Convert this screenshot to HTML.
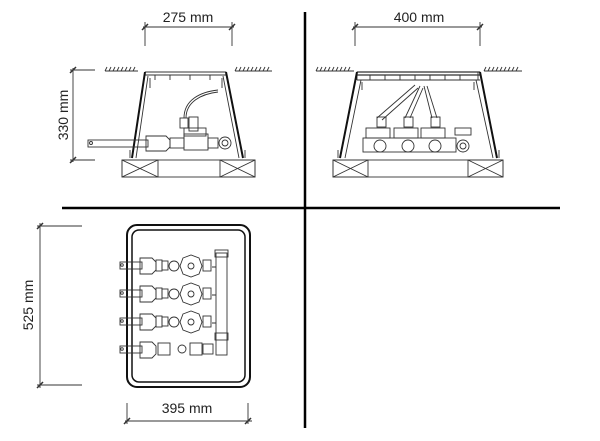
<!DOCTYPE html>
<html><head><meta charset="utf-8"><style>
html,body{margin:0;padding:0;background:#fff;}
svg{display:block;}
text{font-family:"Liberation Sans",sans-serif;fill:#222;}
</style></head><body>
<svg width="600" height="441" viewBox="0 0 600 441" xmlns="http://www.w3.org/2000/svg">
<line x1="305" y1="12" x2="305" y2="428" stroke="#000" stroke-width="2.5"/>
<line x1="62" y1="208" x2="560" y2="208" stroke="#000" stroke-width="2.5"/>

<g fill="none" stroke="#333" stroke-width="0.9">
<!-- TOP LEFT -->
<line x1="143" y1="27" x2="234" y2="27"/>
<line x1="145" y1="22" x2="145" y2="46"/><line x1="232" y1="22" x2="232" y2="46"/>
<line x1="142" y1="30" x2="148" y2="24" stroke-width="1.5"/><line x1="229" y1="30" x2="235" y2="24" stroke-width="1.5"/>
<line x1="73" y1="68" x2="73" y2="162"/>
<line x1="70" y1="70" x2="95" y2="70"/><line x1="70" y1="160" x2="95" y2="160"/>
<line x1="70" y1="73" x2="76" y2="67" stroke-width="1.5"/><line x1="70" y1="163" x2="76" y2="157" stroke-width="1.5"/>
<path d="M105 71 l2-4 M109 71 l2-4 M113 71 l2-4 M117 71 l2-4 M121 71 l2-4 M125 71 l2-4 M129 71 l2-4 M133 71 l2-4 M105 71 H138"/>
<path d="M235 71 l2-4 M239 71 l2-4 M243 71 l2-4 M247 71 l2-4 M251 71 l2-4 M255 71 l2-4 M259 71 l2-4 M263 71 l2-4 M267 71 l2-4 M235 71 H272"/>
<path d="M145 72 H226 M145 75 H226"/>
<path d="M155 75 v5 M170 75 v5 M190 75 v5 M210 75 v5"/>
<path d="M145 72 L132 158 M226 72 L243 158" stroke="#111" stroke-width="2"/>
<path d="M148 76 L136 158 M223 76 L239 158"/>
<path d="M150 78 v10 M222 78 v10 M130 150 v8 M245 150 v8"/>
<rect x="122" y="160" width="133" height="17"/>
<rect x="122" y="160" width="36" height="17"/><rect x="220" y="160" width="35" height="17"/>
<path d="M122 160 L158 177 M158 160 L122 177 M220 160 L255 177 M255 160 L220 177"/>
<rect x="88" y="140" width="60" height="7"/>
<circle cx="91" cy="143" r="1.5"/>
<path d="M146 136 h20 l4 4 v7 l-4 4 h-20 z"/>
<rect x="170" y="138" width="14" height="10"/>
<rect x="184" y="134" width="24" height="16"/>
<rect x="180" y="118" width="8" height="10"/><rect x="189" y="117" width="9" height="14"/>
<rect x="184" y="128" width="22" height="8"/>
<rect x="208" y="138" width="10" height="10"/>
<circle cx="225" cy="143" r="6"/><circle cx="225" cy="143" r="3"/>
<path d="M184 118 C184 100 200 92 218 90"/><path d="M186 118 C186 102 201 94 218 92"/>

<!-- TOP RIGHT -->
<line x1="353" y1="27" x2="482" y2="27"/>
<line x1="355" y1="22" x2="355" y2="46"/><line x1="480" y1="22" x2="480" y2="46"/>
<line x1="352" y1="30" x2="358" y2="24" stroke-width="1.5"/><line x1="477" y1="30" x2="483" y2="24" stroke-width="1.5"/>
<path d="M316 71 l2-4 M320 71 l2-4 M324 71 l2-4 M328 71 l2-4 M332 71 l2-4 M336 71 l2-4 M340 71 l2-4 M344 71 l2-4 M348 71 l2-4 M316 71 H354"/>
<path d="M484 71 l2-4 M488 71 l2-4 M492 71 l2-4 M496 71 l2-4 M500 71 l2-4 M504 71 l2-4 M508 71 l2-4 M512 71 l2-4 M516 71 l2-4 M484 71 H522"/>
<path d="M357 72 H480 M357 75 H480" stroke-width="1.3"/>
<path d="M357 72 v8 M370 75 v5 M385 75 v5 M400 75 v5 M415 75 v5 M430 75 v5 M445 75 v5 M460 75 v5 M478 72 v8 M357 80 H480"/>
<path d="M357 72 L340 158 M480 72 L497 158" stroke="#111" stroke-width="2"/>
<path d="M361 80 L345 158 M476 80 L493 158"/>
<path d="M362 82 v8 M474 82 v8 M338 150 v8 M499 150 v8"/>
<rect x="333" y="160" width="170" height="17"/>
<rect x="333" y="160" width="35" height="17"/><rect x="468" y="160" width="35" height="17"/>
<path d="M333 160 L368 177 M368 160 L333 177 M468 160 L503 177 M503 160 L468 177"/>
<path d="M377 118 L415 85 M382 120 L418 88"/>
<path d="M405 118 L420 86 M410 118 L423 88"/>
<path d="M432 118 L424 86 M437 118 L427 86"/>
<rect x="377" y="117" width="9" height="10"/><rect x="404" y="117" width="9" height="10"/><rect x="431" y="117" width="9" height="10"/>
<rect x="366" y="128" width="24" height="10"/><rect x="394" y="128" width="24" height="10"/><rect x="421" y="128" width="24" height="10"/>
<rect x="363" y="138" width="93" height="14"/>
<circle cx="380" cy="146" r="6"/><circle cx="408" cy="146" r="6"/><circle cx="435" cy="146" r="6"/>
<circle cx="463" cy="146" r="6"/><circle cx="463" cy="146" r="3"/>
<rect x="455" y="128" width="16" height="7"/>

<!-- BOTTOM LEFT -->
<rect x="127" y="225" width="123" height="162" rx="10" stroke="#111" stroke-width="2"/>
<rect x="132" y="230" width="113" height="152" rx="7" stroke="#111" stroke-width="1.5"/>
<line x1="40" y1="223" x2="40" y2="388"/>
<line x1="37" y1="226" x2="82" y2="226"/><line x1="37" y1="385" x2="82" y2="385"/>
<line x1="37" y1="229" x2="43" y2="223" stroke-width="1.5"/><line x1="37" y1="388" x2="43" y2="382" stroke-width="1.5"/>
<line x1="125" y1="421" x2="252" y2="421"/>
<line x1="127" y1="403" x2="127" y2="424"/><line x1="248" y1="403" x2="248" y2="424"/>
<line x1="124" y1="424" x2="130" y2="418" stroke-width="1.5"/><line x1="245" y1="424" x2="251" y2="418" stroke-width="1.5"/>
<g id="row">
<rect x="120" y="262" width="22" height="7"/>
<circle cx="122" cy="265" r="1.3"/>
<path d="M140 258 h12 l4 4 v8 l-4 4 h-12 z"/>
<rect x="156" y="260" width="6" height="11"/><rect x="162" y="261" width="6" height="9"/>
<circle cx="174" cy="266" r="5"/>
<path d="M183 258 l8 -3 l8 3 l3 8 l-3 8 l-8 3 l-8 -3 l-3 -8 z"/>
<circle cx="191" cy="266" r="3"/>
<rect x="203" y="260" width="8" height="11"/>
</g>
<use href="#row" y="28"/>
<use href="#row" y="56"/>
<rect x="120" y="346" width="22" height="7"/><circle cx="122" cy="349" r="1.3"/>
<path d="M140 342 h12 l4 4 v8 l-4 4 h-12 z"/>
<rect x="158" y="343" width="12" height="12"/><circle cx="182" cy="349" r="4"/><rect x="190" y="343" width="12" height="12"/>
<rect x="203" y="344" width="10" height="10"/>
<rect x="216" y="253" width="11" height="102"/>
<rect x="215" y="250" width="13" height="7"/><rect x="215" y="333" width="13" height="7"/>
<path d="M212 267 h4 M212 295 h4 M212 323 h4"/>
</g>

<text x="188" y="22" font-size="14" text-anchor="middle">275 mm</text>
<text x="419" y="22" font-size="14" text-anchor="middle">400 mm</text>
<text x="187" y="413" font-size="14" text-anchor="middle">395 mm</text>
<text transform="translate(68,115) rotate(-90)" font-size="14" text-anchor="middle">330 mm</text>
<text transform="translate(33,305) rotate(-90)" font-size="14" text-anchor="middle">525 mm</text>
</svg>
</body></html>
